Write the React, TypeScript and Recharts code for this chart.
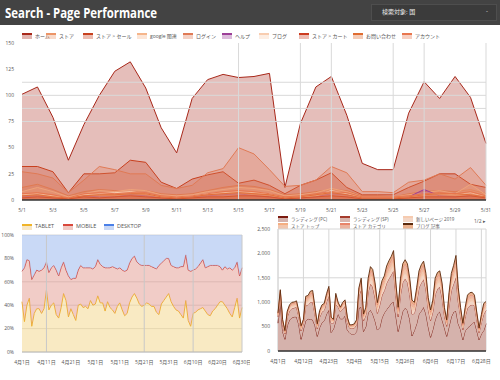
import React from "react";
import { Area, AreaChart, CartesianGrid, ReferenceLine, XAxis, YAxis } from "recharts";

// ---- top chart: daily page views by page (May) ----
const topDays = [
  "5/1", "5/2", "5/3", "5/4", "5/5", "5/6", "5/7", "5/8", "5/9", "5/10",
  "5/11", "5/12", "5/13", "5/14", "5/15", "5/16", "5/17", "5/18", "5/19", "5/20",
  "5/21", "5/22", "5/23", "5/24", "5/25", "5/26", "5/27", "5/28", "5/29", "5/30", "5/31",
];
const topTicks = [0, 25, 50, 75, 100, 125, 150];
const topSeries = [
  { key: "p1", name: "ホーム", color: "#a8281a" },
  { key: "p2", name: "ストア", color: "#ec9466" },
  { key: "p3", name: "ストア > セール", color: "#c8401e" },
  { key: "p4", name: "google 関連", color: "#f5b58a" },
  { key: "p5", name: "ログイン", color: "#e07a55" },
  { key: "p6", name: "ヘルプ", color: "#9c3f98" },
  { key: "p7", name: "ブログ", color: "#f8cdb0" },
  { key: "p8", name: "ストア > カート", color: "#cc3a1e" },
  { key: "p9", name: "お問い合わせ", color: "#e06c30" },
  { key: "p10", name: "アカウント", color: "#e8764e" },
];
const p1 = [101, 108, 79, 38, 72, 100, 123, 132, 107, 69, 45, 97, 115, 120, 117, 118, 121, 12, 73, 108, 118, 81, 35, 29, 29, 83, 113, 97, 118, 98, 54];
const p2 = [12, 15, 10, 4, 8, 10, 9, 8, 9, 6, 5, 6, 9, 12, 14, 13, 10, 5, 6, 8, 10, 9, 4, 4, 3, 6, 8, 9, 8, 10, 6];
const p3 = [32, 32, 27, 7, 25, 25, 26, 38, 36, 17, 11, 20, 24, 27, 16, 19, 14, 6, 14, 19, 26, 12, 5, 5, 5, 12, 18, 25, 25, 15, 12];
const p4 = [8, 12, 8, 3, 6, 9, 8, 10, 9, 5, 4, 5, 8, 10, 12, 11, 9, 4, 5, 7, 11, 8, 3, 3, 3, 5, 7, 9, 6, 15, 5];
const p5 = [27, 25, 21, 7, 19, 32, 29, 25, 25, 14, 11, 14, 26, 30, 50, 44, 29, 13, 14, 19, 32, 26, 8, 8, 7, 17, 19, 25, 20, 31, 14];
const p6 = [3, 4, 2, 1, 4, 3, 3, 5, 4, 2, 1, 3, 4, 5, 6, 4, 3, 1, 2, 3, 6, 5, 2, 2, 2, 3, 10, 4, 3, 4, 3];
const p7 = [5, 6, 4, 2, 5, 6, 7, 8, 6, 3, 3, 4, 6, 7, 8, 7, 6, 2, 3, 4, 9, 6, 2, 2, 2, 3, 5, 6, 5, 7, 3];
const p8 = [2, 3, 2, 1, 3, 2, 3, 4, 3, 2, 1, 2, 3, 3, 4, 4, 3, 1, 2, 3, 4, 3, 1, 1, 1, 2, 3, 3, 3, 4, 2];
const p9 = [4, 5, 3, 2, 4, 5, 5, 6, 6, 3, 2, 3, 5, 6, 7, 6, 5, 2, 3, 5, 7, 5, 2, 2, 2, 3, 5, 6, 6, 5, 3];
const p10 = [6, 7, 5, 2, 6, 7, 6, 7, 7, 4, 3, 4, 6, 8, 9, 8, 6, 3, 4, 6, 8, 7, 3, 3, 3, 4, 6, 7, 6, 8, 4];

// ---- bottom left: device share ----
const deviceTicks = [0, 0.2, 0.4, 0.6, 0.8, 1];
const tablet = [
  43, 26, 40, 46, 22, 33, 37, 37, 33, 37, 53, 36, 40, 42, 32, 29, 38, 50, 44, 30,
  37, 32, 27, 40, 41, 38, 39, 37, 44, 40, 41, 48, 42, 42, 35, 43, 38, 36, 33, 39,
  42, 36, 31, 33, 42, 47, 50, 46, 41, 39, 40, 42, 41, 39, 39, 34, 32, 41, 44, 47,
  50, 43, 39, 36, 35, 32, 29, 44, 27, 22, 33, 34, 36, 37, 38, 35, 32, 31, 35, 37,
  40, 43, 43, 40, 37, 33, 30, 38, 46, 29, 38,
];
const mobile = [
  26, 46, 39, 32, 40, 33, 33, 32, 37, 35, 24, 32, 32, 32, 38, 36, 34, 27, 26, 35,
  25, 31, 36, 30, 33, 34, 33, 35, 28, 31, 32, 31, 33, 31, 37, 29, 34, 37, 39, 32,
  30, 34, 38, 37, 34, 33, 32, 31, 34, 35, 34, 32, 33, 34, 33, 37, 42, 35, 34, 33,
  30, 31, 34, 36, 37, 41, 44, 39, 43, 47, 37, 37, 37, 39, 41, 37, 41, 43, 39, 37,
  34, 30, 27, 33, 34, 39, 40, 34, 31, 36, 34,
];
const desktop = [
  31, 28, 21, 22, 38, 34, 30, 31, 30, 28, 23, 32, 28, 26, 30, 35, 28, 23, 30, 35,
  38, 37, 37, 30, 26, 28, 28, 28, 28, 29, 27, 21, 25, 27, 28, 28, 28, 27, 28, 29,
  28, 30, 31, 30, 24, 20, 18, 23, 25, 26, 26, 26, 26, 27, 28, 29, 26, 24, 22, 20,
  20, 26, 27, 28, 28, 27, 27, 17, 30, 31, 30, 29, 27, 24, 21, 28, 27, 26, 26, 26,
  26, 27, 30, 27, 29, 28, 30, 28, 23, 35, 28,
];

// ---- bottom right: sessions by landing page ----
const sessionTicks = [0, 500, 1000, 1500, 2000, 2500];
const sessionSeries = [
  { key: "s1", name: "ランディング (PC)", color: "#7b1a0f", fill: "#d5b2ac" },
  { key: "s2", name: "ランディング (SP)", color: "#a53b2c", fill: "#d9b6ae" },
  { key: "s3", name: "新しいページ 2019", color: "#f6cbb0", fill: "#f3d6c6" },
  { key: "s4", name: "ストア トップ", color: "#f4ae82", fill: "#f1c6ae" },
  { key: "s5", name: "ストア カテゴリ", color: "#e8856a", fill: "#ebb4a0" },
  { key: "s6", name: "ブログ 記事", color: "#5c2a0c", fill: "#eab08c" },
];
const s1 = [
  570, 1000, 400, 240, 520, 640, 680, 700, 700, 540, 240, 450, 620, 660, 650, 640, 520, 300, 480, 580,
  620, 760, 840, 380, 450, 620, 760, 660, 660, 720, 430, 370, 340, 340, 400, 880, 900, 400, 500, 780,
  840, 760, 620, 430, 480, 680, 780, 850, 910, 980, 1010, 720, 400, 620, 820, 880, 830, 650, 310, 420,
  560, 760, 820, 900, 760, 500, 280, 440, 640, 760, 810, 640, 480, 300, 500, 700, 800, 820, 560, 440,
  230, 420, 470, 520, 560, 600, 420, 230, 350, 420, 560,
];
const s2 = [
  130, 155, 150, 110, 180, 185, 190, 185, 200, 170, 170, 120, 305, 290, 350, 365, 230, 155, 210, 220,
  215, 250, 295, 190, 120, 340, 145, 145, 205, 200, 160, 100, 120, 130, 145, 250, 360, 215, 240, 430,
  540, 550, 470, 340, 460, 460, 460, 540, 570, 580, 635, 410, 300, 530, 590, 600, 580, 510, 445, 350,
  445, 535, 575, 570, 505, 360, 340, 365, 515, 515, 505, 455, 250, 205, 420, 540, 580, 690, 445, 275,
  205, 290, 410, 410, 390, 330, 230, 145, 240, 335, 275,
];
const s3 = [
  25, 30, 30, 20, 35, 38, 40, 36, 40, 34, 32, 25, 60, 58, 70, 72, 45, 30, 42, 45,
  44, 50, 58, 38, 25, 68, 30, 28, 40, 40, 32, 20, 24, 26, 30, 50, 72, 44, 48, 86,
  108, 110, 94, 68, 92, 92, 92, 108, 114, 116, 128, 82, 60, 106, 118, 120, 116, 102, 88, 70,
  90, 106, 115, 114, 100, 72, 68, 74, 104, 104, 100, 92, 50, 40, 84, 108, 116, 138, 90, 55,
  40, 58, 82, 82, 78, 66, 46, 30, 48, 68, 55,
];
const s4 = [
  20, 26, 24, 18, 30, 30, 33, 31, 32, 28, 27, 20, 50, 48, 57, 60, 38, 27, 35, 36,
  36, 42, 48, 32, 20, 56, 24, 25, 34, 32, 27, 17, 20, 22, 24, 42, 58, 36, 40, 70,
  88, 92, 78, 56, 76, 78, 76, 90, 94, 96, 105, 68, 50, 88, 96, 100, 96, 85, 74, 58,
  74, 88, 95, 95, 84, 60, 56, 60, 86, 85, 84, 76, 42, 34, 70, 90, 96, 114, 74, 46,
  34, 48, 68, 68, 64, 55, 38, 24, 40, 56, 46,
];
const s5 = [
  18, 24, 22, 16, 27, 28, 28, 28, 30, 25, 25, 18, 46, 43, 52, 55, 34, 23, 32, 33,
  32, 38, 44, 29, 18, 51, 22, 22, 30, 30, 24, 15, 18, 20, 22, 38, 54, 32, 36, 65,
  81, 83, 70, 51, 69, 69, 69, 81, 86, 87, 95, 61, 45, 79, 88, 90, 87, 77, 67, 52,
  67, 80, 86, 86, 76, 54, 51, 55, 77, 77, 76, 68, 38, 31, 63, 81, 87, 104, 67, 41,
  31, 43, 61, 61, 59, 50, 34, 22, 36, 50, 41,
];
const s6 = [
  17, 21, 20, 14, 24, 25, 26, 25, 26, 22, 22, 16, 41, 38, 46, 49, 30, 21, 28, 30,
  29, 34, 39, 26, 16, 46, 19, 19, 27, 26, 22, 14, 16, 18, 19, 34, 48, 29, 32, 58,
  72, 74, 62, 46, 62, 62, 62, 72, 76, 78, 85, 54, 40, 70, 78, 80, 78, 68, 59, 46,
  59, 71, 77, 76, 67, 48, 46, 49, 69, 69, 67, 61, 34, 27, 56, 72, 78, 92, 59, 37,
  27, 38, 54, 54, 52, 44, 30, 19, 32, 45, 37,
];

// Apr 1 - Jun 30 calendar labels
const monthLengths = [30, 31, 30];
const quarterDays: string[] = [];
monthLengths.forEach((len, m) => {
  for (let d = 1; d <= len; d++) quarterDays.push(`${m + 4}月${d}日`);
});

const topRows = topDays.map((day, i) => ({
  day, p1: p1[i], p2: p2[i], p3: p3[i], p4: p4[i], p5: p5[i],
  p6: p6[i], p7: p7[i], p8: p8[i], p9: p9[i], p10: p10[i],
}));
const deviceRows = quarterDays.map((day, i) => ({
  day, tablet: tablet[i], mobile: mobile[i], desktop: desktop[i],
}));
const sessionRows = quarterDays.map((day, i) => ({
  day, s1: s1[i], s2: s2[i], s3: s3[i], s4: s4[i], s5: s5[i], s6: s6[i],
}));

const FONT = "'Open Sans', 'Noto Sans CJK JP', sans-serif";
const tick = { fontSize: 5, fill: "#555", fontFamily: FONT };

function Swatch({ color, fill }: { color: string; fill?: string }) {
  return (
    <span style={{ position: "relative", display: "inline-block", width: 10, height: 6, marginRight: 3 }}>
      <span style={{ position: "absolute", left: 0, top: 0, width: 10, height: 2, background: color }} />
      <span style={{ position: "absolute", left: 0, top: 2, width: 10, height: 4, background: fill ?? color, opacity: fill ? 1 : 0.35 }} />
    </span>
  );
}

function LegendItem({ x, y, color, fill, label, size = 5 }: { x: number; y: number; color: string; fill?: string; label: string; size?: number }) {
  return (
    <div style={{ position: "absolute", left: x, top: y, display: "flex", alignItems: "center", fontSize: size, color: "#555", whiteSpace: "nowrap", lineHeight: 1 }}>
      <Swatch color={color} fill={fill} />
      {label}
    </div>
  );
}

const topLegendX = [22, 46, 83, 137, 183, 222, 259, 299, 353, 402];
const sessionLegendPos = [
  [278, 216], [340, 216], [403, 216],
  [278, 223], [340, 223], [403, 223],
];

export default function App() {
  return (
    <div style={{ position: "relative", width: 500, height: 380, background: "#fff", fontFamily: FONT, overflow: "hidden" }}>
      <style>{`body{margin:0}`}</style>

      {/* header */}
      <div style={{ position: "absolute", left: 0, top: 0, width: 500, height: 25, background: "#434343" }} />
      <div style={{ position: "absolute", left: 5, top: 2, color: "#fff", fontFamily: "'Open Sans', sans-serif", fontWeight: 700, fontSize: 15, lineHeight: "20px", whiteSpace: "nowrap", transform: "scaleX(0.76)", transformOrigin: "left center" }}>
        Search - Page Performance
      </div>
      <div style={{ position: "absolute", left: 371, top: 4, width: 126, height: 17, background: "#3b3b3b", border: "1px solid #4e4e4e", boxSizing: "border-box" }}>
        <span style={{ position: "absolute", left: 10, top: 4, fontSize: 6, color: "#eee", lineHeight: 1 }}>検索対象: 国</span>
        <span style={{ position: "absolute", right: 8, top: 3, fontSize: 6, color: "#eee", lineHeight: 1 }}>-</span>
      </div>

      {/* top chart */}
      {topSeries.map((s, i) => (
        <LegendItem key={s.key} x={topLegendX[i]} y={33} color={s.color} label={s.name} />
      ))}
      <div style={{ position: "absolute", left: 0, top: 27 }}>
        <AreaChart width={500} height={185} data={topRows} margin={{ top: 16, right: 14, bottom: 4, left: 0 }}>
          <YAxis domain={[0, 150]} ticks={topTicks} tick={tick} axisLine={false} tickLine={false} width={22} />
          <XAxis dataKey="day" interval={1} tick={tick} tickLine={false} axisLine={{ stroke: "#333", strokeWidth: 1.5 }} height={8} />
          {[75, 87.5, 100, 112.5].map((v) => (
            <ReferenceLine key={v} y={v} stroke="#d9d9d9" />
          ))}
          {[14, 18, 20, 24, 26, 30].map((i) => (
            <ReferenceLine key={i} x={topDays[i]} stroke="#d9d9d9" />
          ))}
          {topSeries.map((s) => (
            <Area
              key={s.key}
              type="linear"
              dataKey={s.key}
              name={s.name}
              stroke={s.color}
              strokeWidth={1}
              fill={s.color}
              fillOpacity={0.3}
              dot={false}
              isAnimationActive={false}
            />
          ))}
        </AreaChart>
      </div>

      {/* bottom left chart */}
      <LegendItem x={22} y={224} color="#f0b429" fill="#f8e7c6" label="TABLET" size={5.5} />
      <LegendItem x={63} y={224} color="#d9483b" fill="#f0c9c3" label="MOBILE" size={5.5} />
      <LegendItem x={104} y={224} color="#4a80e8" fill="#c9d8f5" label="DESKTOP" size={5.5} />
      <div style={{ position: "absolute", left: 0, top: 230 }}>
        <AreaChart width={250} height={140} data={deviceRows} stackOffset="expand" margin={{ top: 5, right: 8, bottom: 8, left: 0 }}>
          <CartesianGrid vertical={false} stroke="#d6d6d6" />
          <YAxis
            ticks={deviceTicks}
            tickFormatter={(v: number) => `${Math.round(v * 100)}%`}
            tick={tick}
            axisLine={false}
            tickLine={false}
            width={22}
          />
          <XAxis dataKey="day" interval={9} tick={tick} tickLine={false} axisLine={{ stroke: "#bbb" }} height={10} />
          <Area type="linear" dataKey="tablet" name="TABLET" stackId="d" stroke="#f0b429" strokeWidth={1} fill="#f4d892" fillOpacity={0.55} isAnimationActive={false} />
          <Area type="linear" dataKey="mobile" name="MOBILE" stackId="d" stroke="#d9483b" strokeWidth={1} fill="#e49a90" fillOpacity={0.5} isAnimationActive={false} />
          <Area type="linear" dataKey="desktop" name="DESKTOP" stackId="d" stroke="#4a80e8" strokeWidth={0} fill="#a5bff0" fillOpacity={0.6} isAnimationActive={false} />
          {[10, 50, 70, 90].map((i) => (
            <ReferenceLine key={i} x={quarterDays[i]} stroke="#c8c8c8" />
          ))}
        </AreaChart>
      </div>

      {/* bottom right chart */}
      {sessionSeries.map((s, i) => (
        <LegendItem key={s.key} x={sessionLegendPos[i][0]} y={sessionLegendPos[i][1]} color={s.color} fill={s.fill} label={s.name} size={4.5} />
      ))}
      <div style={{ position: "absolute", left: 474, top: 219, fontSize: 5, color: "#555", lineHeight: 1 }}>1/2 ▸</div>
      <div style={{ position: "absolute", left: 250, top: 224 }}>
        <AreaChart width={250} height={142} data={sessionRows} margin={{ top: 5, right: 14, bottom: 5, left: 0 }}>
          <CartesianGrid stroke="#d6d6d6" />
          <YAxis
            domain={[0, 2500]}
            ticks={sessionTicks}
            tickFormatter={(v: number) => v.toLocaleString("en-US")}
            tick={tick}
            axisLine={false}
            tickLine={false}
            width={28}
          />
          <XAxis dataKey="day" interval={10} tick={tick} tickLine={false} axisLine={{ stroke: "#333", strokeWidth: 1.5 }} height={10} />
          {sessionSeries.map((s) => (
            <Area
              key={s.key}
              type="linear"
              dataKey={s.key}
              name={s.name}
              stackId="s"
              stroke={s.color}
              strokeWidth={0.9}
              fill={s.fill}
              fillOpacity={1}
              isAnimationActive={false}
            />
          ))}
        </AreaChart>
      </div>
    </div>
  );
}
